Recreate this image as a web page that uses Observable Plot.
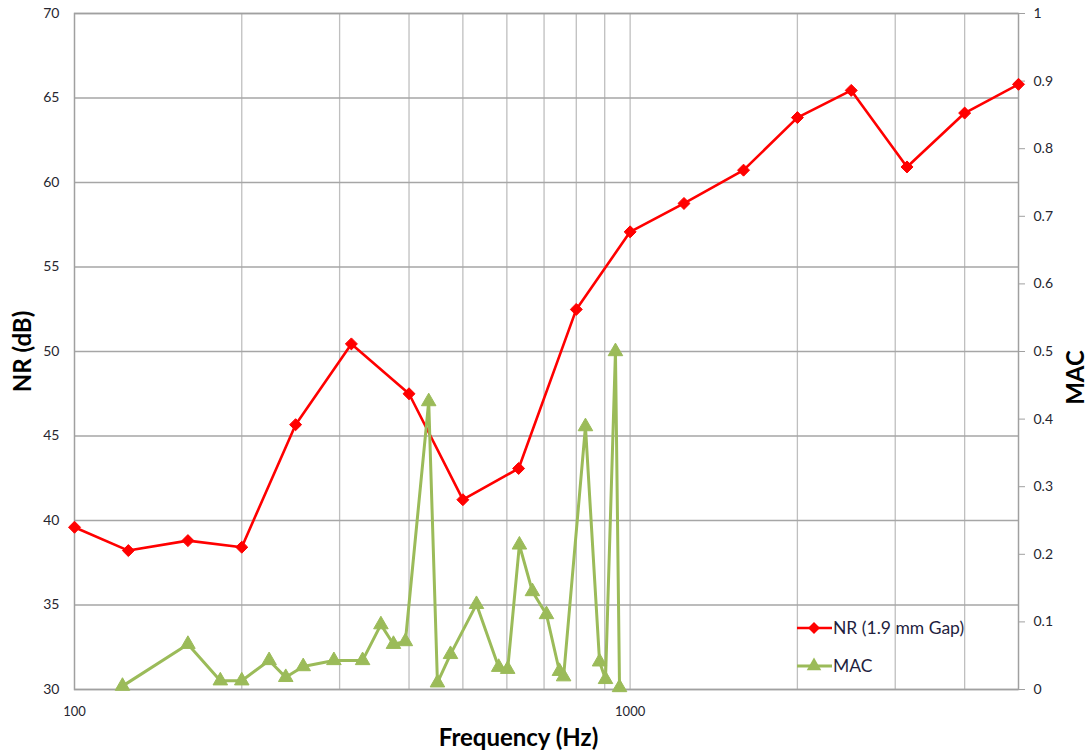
<!DOCTYPE html>
<html>
<head>
<meta charset="utf-8">
<script src="https://cdn.jsdelivr.net/npm/d3@7"></script>
<script src="https://cdn.jsdelivr.net/npm/@observablehq/plot@0.6"></script>
<style>
  html, body { margin: 0; padding: 0; background: #ffffff; }
  #wrap { position: relative; width: 1091px; height: 753px; font-family: Lato, "Open Sans", "Liberation Sans", sans-serif; }
  #legend { position: absolute; left: 790px; top: 610px; }
</style>
</head>
<body>
<div id="wrap"><div id="chart"></div><div id="legend"></div></div>
<script>
// ---- Data ----
const nrFreq   = [100, 125, 160, 200, 250, 315, 400, 500, 630, 800, 1000, 1250, 1600, 2000, 2500, 3150, 4000, 5000];
const nrValues = [39.6, 38.22, 38.81, 38.42, 45.67, 50.45, 47.5, 41.23, 43.08, 52.49, 57.08, 58.76, 60.73, 63.84, 65.45, 60.92, 64.11, 65.81];

const macFreq   = [122, 160, 183, 200, 224, 240, 258, 293, 330, 356, 375, 394, 434, 450, 475, 529, 580, 602, 632, 667, 707, 746, 759, 831, 881, 903, 941, 957];
const macValues = [0.005, 0.067, 0.013, 0.013, 0.043, 0.018, 0.034, 0.043, 0.043, 0.096, 0.067, 0.071, 0.426, 0.010, 0.052, 0.126, 0.033, 0.030, 0.214, 0.145, 0.111, 0.027, 0.019, 0.389, 0.041, 0.015, 0.500, 0.003];

const xTickLabels = [100, 1000];
const xGridLines  = [200, 300, 400, 500, 600, 700, 800, 900, 1000, 2000, 3000, 4000];
const nrTicks     = [30, 35, 40, 45, 50, 55, 60, 65, 70];
const macTicks    = [0, 0.1, 0.2, 0.3, 0.4, 0.5, 0.6, 0.7, 0.8, 0.9, 1];

const seriesNames = ["NR (1.9 mm Gap)", "MAC"];
const colors = { nr: "#ff0000", mac: "#9bbb59" };

// ---- Build tables ----
const nrData  = nrFreq.map((f, i) => ({ f, v: nrValues[i] }));
const macData = macFreq.map((f, i) => ({ f, v: macValues[i] }));

// MAC (0..1) drawn against the NR scale (30..70)
const nrMin = 30, nrMax = 70;
const macToY = m => nrMin + m * (nrMax - nrMin);
const yToMac = y => (y - nrMin) / (nrMax - nrMin);

const font = 'Lato, "Open Sans", "Liberation Sans", sans-serif';
const tickColor = "#262630";

const chart = Plot.plot({
  width: 1091,
  height: 753,
  marginLeft: 74,
  marginRight: 73,
  marginTop: 13,
  marginBottom: 64,
  style: { fontFamily: font, fontSize: "14px", color: tickColor, background: "#ffffff" },
  x: { type: "log", domain: [100, 5000] },
  y: { domain: [nrMin, nrMax] },
  marks: [
    Plot.ruleX(xGridLines, { stroke: "#bfbfbf", strokeWidth: 1.3 }),
    Plot.ruleY(nrTicks, { stroke: "#a6a6a6", strokeWidth: 1.5 }),
    Plot.frame({ stroke: "#a0a0a0", strokeWidth: 1.5 }),

    Plot.axisY(nrTicks, { anchor: "left", tickSize: 0, tickPadding: 15, fontSize: 14, label: null }),
    Plot.axisY(macTicks.map(macToY), {
      anchor: "right", tickSize: 6, tickPadding: 9, stroke: "#a0a0a0", fontSize: 14, label: null,
      tickFormat: d => String(+yToMac(d).toFixed(2))
    }),
    Plot.axisX(xTickLabels, { anchor: "bottom", tickSize: 0, tickPadding: 17, fontSize: 13, label: null, tickFormat: d => String(d) }),

    // NR series
    Plot.line(nrData, { x: "f", y: "v", stroke: colors.nr, strokeWidth: 2.6 }),
    Plot.dot(nrData, { x: "f", y: "v", symbol: "diamond2", r: 5.4, fill: colors.nr, stroke: colors.nr, strokeWidth: 1 }),

    // MAC series
    Plot.line(macData, { x: "f", y: d => macToY(d.v), stroke: colors.mac, strokeWidth: 3 }),
    Plot.dot(macData, { x: "f", y: d => macToY(d.v), symbol: "triangle", r: 5.4, fill: colors.mac, stroke: colors.mac, strokeWidth: 1 }),

    // Axis titles
    Plot.text(["NR (dB)"], { frameAnchor: "left", textAnchor: "middle", lineAnchor: "middle", dx: -51, rotate: -90, fontSize: 24, fontWeight: "bold", fill: "#000" }),
    Plot.text(["MAC"], { frameAnchor: "right", textAnchor: "middle", lineAnchor: "middle", dx: 58, dy: 26, rotate: -90, fontSize: 24, fontWeight: "bold", fill: "#000" }),
    Plot.text(["Frequency (Hz)"], { frameAnchor: "bottom", textAnchor: "middle", lineAnchor: "middle", dx: -28, dy: 49, fontSize: 24, fontWeight: "bold", fill: "#000" })
  ]
});
document.getElementById("chart").appendChild(chart);

// ---- Legend ----
const lg = d3.select("#legend").append("svg").attr("width", 200).attr("height", 75)
  .style("font-family", font);
const items = [
  { name: seriesNames[0], color: colors.nr, sym: d3.symbolDiamond2, y: 18, w: 2.6 },
  { name: seriesNames[1], color: colors.mac, sym: d3.symbolTriangle, y: 56, w: 3 }
];
items.forEach(it => {
  const g = lg.append("g").attr("transform", `translate(0,${it.y})`);
  g.append("line").attr("x1", 7).attr("x2", 42).attr("y1", 0).attr("y2", 0)
    .attr("stroke", it.color).attr("stroke-width", it.w);
  g.append("path").attr("d", d3.symbol(it.sym, Math.PI * 5.4 * 5.4)())
    .attr("transform", "translate(24,0)").attr("fill", it.color);
  g.append("text").attr("x", 43).attr("y", 0).attr("dy", "0.35em")
    .attr("font-size", 17.5).attr("fill", "#1f1f3f").text(it.name);
});
</script>
</body>
</html>
